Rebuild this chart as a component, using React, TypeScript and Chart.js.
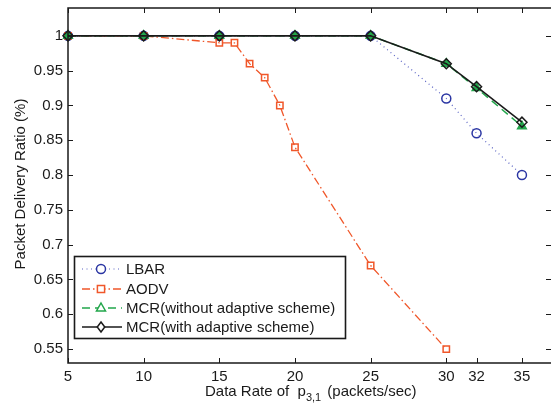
import React, { useEffect, useRef } from "react";
import { Chart, registerables } from "chart.js";

Chart.register(...registerables);

const xTicks = [5, 10, 15, 20, 25, 30, 32, 35];
const yTicks = [0.55, 0.6, 0.65, 0.7, 0.75, 0.8, 0.85, 0.9, 0.95, 1];

const lbarX = [5, 10, 15, 20, 25, 30, 32, 35];
const lbarY = [1, 1, 1, 1, 1, 0.91, 0.86, 0.8];

const aodvX = [5, 10, 15, 16, 17, 18, 19, 20, 25, 30];
const aodvY = [1, 1, 0.99, 0.99, 0.96, 0.94, 0.9, 0.84, 0.67, 0.55];

const mcrNoX = [5, 10, 15, 20, 25, 30, 32, 35];
const mcrNoY = [1, 1, 1, 1, 1, 0.96, 0.925, 0.87];

const mcrX = [5, 10, 15, 20, 25, 30, 32, 35];
const mcrY = [1, 1, 1, 1, 1, 0.96, 0.927, 0.876];

const labels = [
  "LBAR",
  "AODV",
  "MCR(without adaptive scheme)",
  "MCR(with adaptive scheme)",
];

const FONT = '"Liberation Sans", Arial, Helvetica, sans-serif';
const BLUE = "#2b36a3";
const BLUE_LINE = "#5a63c4";
const RED = "#f0572a";
const GREEN = "#22a64b";
const BLACK = "#1a1a1a";

const pts = (xs: number[], ys: number[]) => xs.map((x, i) => ({ x, y: ys[i] }));

const styles = [
  { color: BLUE_LINE, mark: BLUE, dash: [1, 3.5], style: "circle", r: 4.5, lw: 1.2 },
  { color: RED, mark: RED, dash: [8, 3, 1.5, 3], style: "rect", r: 4.5, lw: 1.3 },
  { color: GREEN, mark: GREEN, dash: [8, 5], style: "triangle", r: 5, lw: 1.5 },
  { color: BLACK, mark: BLACK, dash: [], style: "rectRot", r: 5, lw: 1.6 },
];

const zeroPad = (s: any) => {
  s.paddingLeft = 0;
  s.paddingRight = 0;
  s.paddingTop = 0;
  s.paddingBottom = 0;
};

const framePlugin = {
  id: "frame",
  afterDraw(chart: any) {
    const ctx = chart.ctx;
    const a = chart.chartArea;
    const xs = chart.scales.x;
    const ys = chart.scales.y;
    ctx.save();
    ctx.strokeStyle = "#1a1a1a";
    ctx.lineWidth = 1.5;
    ctx.beginPath();
    ctx.moveTo(a.right + 2, a.top);
    ctx.lineTo(a.left, a.top);
    ctx.lineTo(a.left, a.bottom);
    ctx.lineTo(a.right + 2, a.bottom);
    ctx.stroke();
    ctx.lineWidth = 1;
    ctx.beginPath();
    const tl = 5;
    xTicks.forEach((v) => {
      const px = Math.round(xs.getPixelForValue(v)) + 0.5;
      ctx.moveTo(px, a.top);
      ctx.lineTo(px, a.top + tl);
      ctx.moveTo(px, a.bottom);
      ctx.lineTo(px, a.bottom - tl);
    });
    yTicks.forEach((v) => {
      const py = Math.round(ys.getPixelForValue(v)) + 0.5;
      ctx.moveTo(a.left, py);
      ctx.lineTo(a.left + tl, py);
      ctx.moveTo(a.right, py);
      ctx.lineTo(a.right - tl, py);
    });
    ctx.stroke();

    // axis titles
    ctx.fillStyle = "#1a1a1a";
    ctx.font = `15px ${FONT}`;
    ctx.textBaseline = "middle";
    ctx.textAlign = "center";
    ctx.save();
    ctx.translate(21, 184);
    ctx.rotate(-Math.PI / 2);
    ctx.fillText("Packet Delivery Ratio (%)", 0, 0);
    ctx.restore();

    ctx.textAlign = "left";
    ctx.textBaseline = "alphabetic";
    let x = 205;
    const base = 396;
    const p1 = "Data Rate of  ";
    ctx.fillText(p1, x, base);
    x += ctx.measureText(p1).width;
    ctx.fillText("p", x, base);
    x += ctx.measureText("p").width;
    ctx.font = `11px ${FONT}`;
    ctx.fillText("3,1", x, base + 5);
    x += ctx.measureText("3,1").width;
    ctx.font = `15px ${FONT}`;
    ctx.fillText(" (packets/sec)", x + 2, base);

    // legend
    const bx = 74.5, by = 256.5, bw = 271, bh = 82;
    ctx.fillStyle = "#ffffff";
    ctx.fillRect(bx, by, bw, bh);
    ctx.strokeStyle = "#1a1a1a";
    ctx.lineWidth = 1.6;
    ctx.strokeRect(bx, by, bw, bh);
    const rowsY = [269, 289, 308, 327];
    labels.forEach((lab, i) => {
      const s = styles[i];
      const y = rowsY[i];
      ctx.save();
      ctx.strokeStyle = s.color;
      ctx.lineWidth = s.lw;
      ctx.setLineDash(s.dash);
      ctx.beginPath();
      ctx.moveTo(82, y);
      ctx.lineTo(122, y);
      ctx.stroke();
      ctx.setLineDash([]);
      ctx.restore();
      // marker
      ctx.save();
      ctx.fillStyle = "#ffffff";
      ctx.strokeStyle = s.mark;
      ctx.lineWidth = 1.5;
      const mx = 101;
      const r = s.r;
      ctx.beginPath();
      if (s.style === "circle") {
        ctx.arc(mx, y, r, 0, Math.PI * 2);
      } else if (s.style === "rect") {
        ctx.rect(mx - r * 0.8, y - r * 0.8, r * 1.6, r * 1.6);
      } else if (s.style === "triangle") {
        ctx.moveTo(mx, y - r);
        ctx.lineTo(mx + r * 0.9, y + r * 0.6);
        ctx.lineTo(mx - r * 0.9, y + r * 0.6);
        ctx.closePath();
      } else {
        ctx.moveTo(mx, y - r);
        ctx.lineTo(mx + r * 0.75, y);
        ctx.lineTo(mx, y + r);
        ctx.lineTo(mx - r * 0.75, y);
        ctx.closePath();
      }
      ctx.fill();
      ctx.stroke();
      ctx.restore();
      ctx.fillStyle = "#1a1a1a";
      ctx.font = `15px ${FONT}`;
      ctx.textBaseline = "middle";
      ctx.textAlign = "left";
      ctx.fillText(lab, 126, y + 1);
    });
    ctx.restore();
  },
};

export default function App() {
  const ref = useRef<HTMLCanvasElement | null>(null);
  useEffect(() => {
    document.body.style.margin = "0";
    const ctx = ref.current!.getContext("2d")!;
    const series = [
      pts(lbarX, lbarY),
      pts(aodvX, aodvY),
      pts(mcrNoX, mcrNoY),
      pts(mcrX, mcrY),
    ];
    const datasets = series.map((d, i) => {
      const s = styles[i];
      return {
        label: labels[i],
        data: d,
        borderColor: s.color,
        borderWidth: s.lw,
        borderDash: s.dash,
        pointStyle: s.style,
        pointRadius: s.r,
        pointBorderColor: s.mark,
        pointBackgroundColor: s.style === "triangle" ? GREEN : "rgba(0,0,0,0)",
        pointBorderWidth: 1.5,
        fill: false,
        tension: 0,
        clip: false,
        order: 3 - i,
      };
    });
    const chart = new Chart(ctx, {
      type: "line",
      data: { datasets: datasets as any },
      options: {
        animation: false,
        responsive: false,
        devicePixelRatio: 1,
        layout: { autoPadding: false, padding: { left: 0, top: 8, right: 0, bottom: 0 } },
        plugins: { legend: { display: false }, tooltip: { enabled: false } },
        scales: {
          x: {
            type: "linear",
            min: 5,
            max: 36.92,
            grid: { display: false, drawTicks: false },
            border: { display: false },
            afterBuildTicks: (s: any) => {
              s.ticks = xTicks.map((v) => ({ value: v }));
            },
            afterFit: (s: any) => {
              s.height = 41;
              zeroPad(s);
            },
            ticks: {
              autoSkip: false,
              maxRotation: 0,
              padding: 5,
              color: "#1a1a1a",
              font: { family: FONT, size: 15 },
              callback: (v: any) => String(v),
            },
          },
          y: {
            type: "linear",
            min: 0.53,
            max: 1.04,
            grid: { display: false, drawTicks: false },
            border: { display: false },
            afterBuildTicks: (s: any) => {
              s.ticks = yTicks.map((v) => ({ value: v }));
            },
            afterFit: (s: any) => {
              s.width = 68;
              zeroPad(s);
            },
            ticks: {
              autoSkip: false,
              padding: 5,
              color: "#1a1a1a",
              font: { family: FONT, size: 15 },
              callback: (v: any) => String(Math.round(Number(v) * 100) / 100),
            },
          },
        },
      },
      plugins: [framePlugin],
    });
    return () => chart.destroy();
  }, []);
  return (
    <div style={{ position: "absolute", left: 0, top: 0, width: 551, height: 404, background: "#fff" }}>
      <canvas ref={ref} width={551} height={404} style={{ display: "block" }} />
    </div>
  );
}
